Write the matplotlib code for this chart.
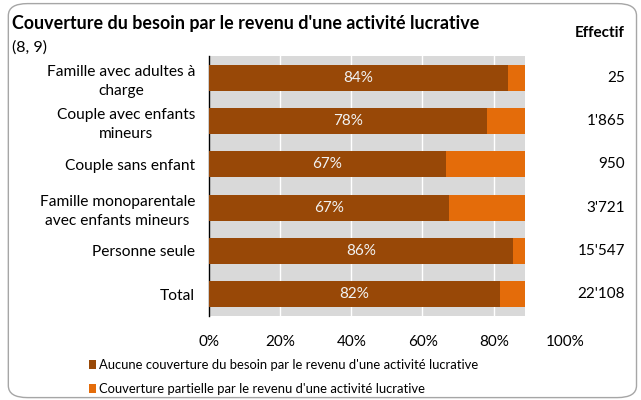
import matplotlib.pyplot as plt
from matplotlib.patches import FancyBboxPatch
from matplotlib.transforms import blended_transform_factory

plt.rcParams['font.family'] = ['Lato', 'DejaVu Sans']

categories = ["Famille avec adultes à\ncharge", "Couple avec enfants\nmineurs",
              "Couple sans enfant", "Famille monoparentale\navec enfants mineurs",
              "Personne seule", "Total"]
aucune = [83.9, 78.0, 66.6, 67.4, 85.3, 81.7]
labels = ["84%", "78%", "67%", "67%", "86%", "82%"]
effectif = ["25", "1'865", "950", "3'721", "15'547", "22'108"]

dark = "#984807"
orange = "#E46C0A"

partielle = [100 - v for v in aucune]

fig = plt.figure(figsize=(6.41, 4.0), dpi=100)

# rounded frame
frame = FancyBboxPatch((0.013, 0.006), 0.98, 0.985, boxstyle="round,pad=0,rounding_size=0.03",
                       transform=fig.transFigure, fc="none", ec="#a6a6a6", lw=1.0)
fig.patches.append(frame)

ax = fig.add_axes([0.326, 0.21, 0.493, 0.65])
ax.set_facecolor("#d9d9d9")
y = list(range(len(categories)))
ax.barh(y, aucune, height=0.6, color=dark, label="Aucune couverture du besoin par le revenu d'une activité lucrative", zorder=3)
ax.barh(y, partielle, left=aucune, height=0.6, color=orange, label="Couverture partielle par le revenu d'une activité lucrative", zorder=3)
for yi, v, lab in zip(y, aucune, labels):
    ax.text(v / 2, yi, lab, ha="center", va="center", color="#f2f2f2", fontsize=11, zorder=4)

ax.set_xlim(0, 88.8)
ax.set_ylim(len(categories) - 0.5, -0.5)
ax.set_xticks([20, 40, 60, 80])
ax.tick_params(axis="x", length=0, labelbottom=False)
ax.grid(axis="x", color="white", lw=1.0, zorder=1)
ax.set_yticks(y)
ax.set_yticklabels(categories, fontsize=11.2)
for t in ax.get_yticklabels():
    t.set_multialignment("center")
    t.set_linespacing(1.45)
ax.tick_params(axis="y", length=0, pad=10)
for s in ["top", "right", "bottom"]:
    ax.spines[s].set_visible(False)
ax.spines["left"].set_color("black")
ax.spines["left"].set_linewidth(1.0)

# percent axis (labels run to 100%)
ax2 = fig.add_axes([0.326, 0.21, 0.5554, 0.001])
ax2.set_xlim(0, 100)
ax2.set_xticks([0, 20, 40, 60, 80, 100])
ax2.set_xticklabels(["0%", "20%", "40%", "60%", "80%", "100%"], fontsize=11)
ax2.tick_params(axis="x", length=0, pad=14)
ax2.set_yticks([])
ax2.patch.set_visible(False)
for s in ax2.spines.values():
    s.set_visible(False)

tr = blended_transform_factory(fig.transFigure, ax.transData)
for yi, e in zip(y, effectif):
    ax.text(0.975, yi, e, transform=tr, ha="right", va="center", fontsize=11, clip_on=False)

fig.text(0.019, 0.94, "Couverture du besoin par le revenu d'une activité lucrative",
         fontsize=12.9, fontweight="bold", va="center")
fig.text(0.019, 0.882, "(8, 9)", fontsize=11.5, va="center")
fig.text(0.975, 0.918, "Effectif", fontsize=11, fontweight="bold", ha="right", va="center")

fig.legend(loc="upper left", bbox_to_anchor=(0.13, 0.115), frameon=False, fontsize=9.4,
           handlelength=0.6, handleheight=0.6, handletextpad=0.2, labelspacing=0.9,
           borderaxespad=0)

fig.savefig("out.png", dpi=100)
